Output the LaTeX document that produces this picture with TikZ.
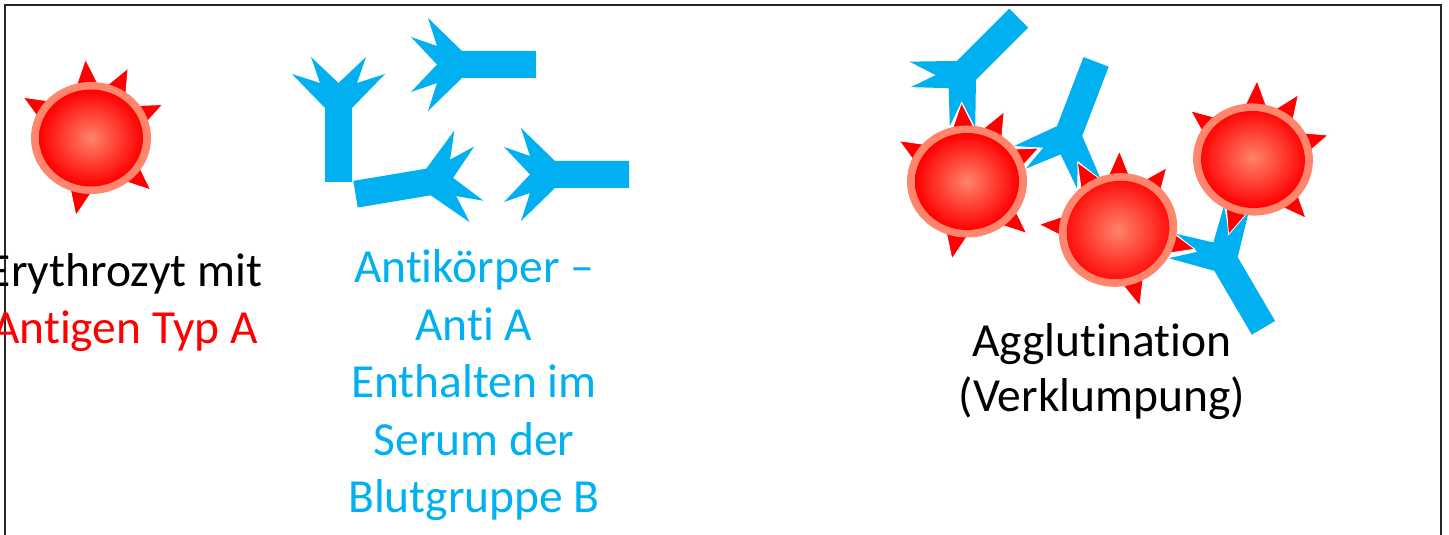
\documentclass[tikz,border=0pt]{standalone}
\usepackage{fontspec}
\setmainfont[Ligatures=NoCommon]{Carlito}
\usepackage{tikz}

\definecolor{abblue}{RGB}{0,176,240}
\definecolor{ringred}{RGB}{255,134,108}
\definecolor{corered}{RGB}{255,132,106}

\newcommand{\erythro}[3]{%
  \begin{scope}[shift={(#1,#2)}, rotate=#3]
    \foreach \a in {149,94,62,25,-41,-101}
      \filldraw[antigen] (\a-15:50) -- (\a:79) -- (\a+15:50) -- cycle;
    \fill[ringred] (0,0) ellipse [x radius=60, y radius=56];
    \shade[inner color=corered, outer color=red] (0,0) ellipse [x radius=52, y radius=48.5];
  \end{scope}}

\newcommand{\antibody}[3]{%
  \fill[abblue, shift={(#1,#2)}, rotate=#3]
    (13.5,0) -- (46.5,34) -- (18.5,25) -- (27.5,51) -- (0,25) -- (-27.5,51)
    -- (-18.5,25) -- (-46.5,34) -- (-13.5,0) -- (-13.5,-74) -- (13.5,-74) -- cycle;}

\begin{document}
\begin{tikzpicture}[x=1pt, y=1pt,
    every node/.style={align=center, inner sep=0pt, font=\fontsize{47.5}{57.5}\selectfont},
    antigen/.style={fill=red, draw=white, line width=0.8pt, line join=miter}]
  \useasboundingbox (0,0) rectangle (1449,535);
  \draw[line width=2pt, black!85] (5,-10) -- (5,530) -- (1441,530) -- (1441,-10);

  \erythro{91}{397}{0}

  \antibody{338.5}{427}{0}
  \antibody{462}{470.5}{90}
  \antibody{428.5}{353}{-80.5}
  \antibody{555}{360.5}{90}

  \antibody{966.4}{464.5}{135}
  \antibody{1069.6}{404}{159}
  \antibody{1226}{271}{30.4}
  \erythro{967}{353.5}{0}
  \erythro{1118}{305}{27}
  \erythro{1253}{375.5}{-7}

  \node[anchor=base] (ery) at (125,191) {Erythrozyt mit\\\textcolor{red}{Antigen Typ A}};
  \node[anchor=base, text=abblue] (anti) at (474,22)
    {Antikörper –\\Anti A\\Enthalten im\\Serum der\\Blutgruppe B};
  \node[anchor=base, font=\fontsize{47.5}{55}\selectfont] (aggl) at (1102,123)
    {Agglutination\\(Verklumpung)};
\end{tikzpicture}
\end{document}
